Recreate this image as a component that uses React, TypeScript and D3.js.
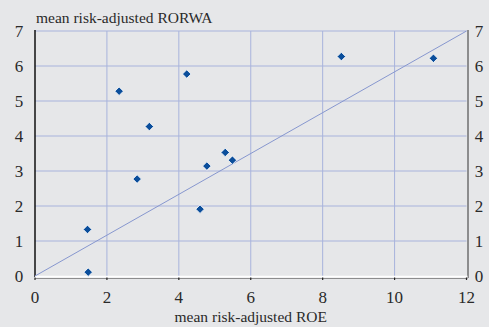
import * as d3 from 'd3';

// mean risk-adjusted ROE (x) vs mean risk-adjusted RORWA (y)
const roe = [1.46, 1.48, 2.34, 2.84, 3.18, 4.22, 4.59, 4.78, 5.29, 5.49, 8.52, 11.08];
const rorwa = [1.33, 0.11, 5.28, 2.77, 4.27, 5.77, 1.91, 3.14, 3.53, 3.31, 6.27, 6.22];
const xTicks = [0, 2, 4, 6, 8, 10, 12];
const yTicks = [0, 1, 2, 3, 4, 5, 6, 7];
const diagonal = [[0, 0], [12, 7]];

const W = 489, H = 327;
const left = 35, right = 466.5, top = 31, bottom = 276;

const App = () => {
    const x = d3.scaleLinear().domain([0, 12]).range([left, right]);
    const y = d3.scaleLinear().domain([0, 7]).range([bottom, top]);
    const line = d3.line<number[]>().x(d => x(d[0])).y(d => y(d[1]));
    const diamond = d3.symbol().type(d3.symbolDiamond2).size(46)();
    const font = "'Liberation Serif', 'DejaVu Serif', serif";

    return (
        <svg width={W} height={H} style={{ position: 'absolute', left: 0, top: 0, display: 'block' }}>
            <rect width={W} height={H} fill="#e6e7e9" />
            {/* grid */}
            {xTicks.slice(1, -1).map(t =>
                <line key={'gx' + t} x1={x(t)} x2={x(t)} y1={top} y2={bottom} stroke="#a8b3dc" strokeWidth={1} />
            )}
            {yTicks.slice(1).map(t =>
                <line key={'gy' + t} x1={left} x2={right} y1={y(t)} y2={y(t)} stroke="#a8b3dc" strokeWidth={1} />
            )}
            {/* axes */}
            <line x1={left} x2={left} y1={top - 1} y2={bottom + 1} stroke="#111" strokeWidth={1.5} />
            <line x1={right + 1.5} x2={right + 1.5} y1={top - 1} y2={bottom + 2} stroke="#333" strokeWidth={1} />
            <line x1={left} x2={right + 1} y1={bottom + 2.3} y2={bottom + 2.3} stroke="#777" strokeWidth={1} />
            <line x1={left} x2={right + 1} y1={bottom + 0.8} y2={bottom + 0.8} stroke="#fff" strokeWidth={2} />
            {xTicks.map(t =>
                <line key={'tx' + t} x1={x(t)} x2={x(t)} y1={bottom + 1.5} y2={bottom + 4} stroke="#222" strokeWidth={1.2} />
            )}
            {/* diagonal */}
            <path d={line(diagonal) || ''} fill="none" stroke="#8797cf" strokeWidth={1} />
            {/* points */}
            {roe.map((v, i) =>
                <path key={'p' + i} d={diamond || ''} transform={`translate(${x(v)},${y(rorwa[i])})`}
                    fill="#0b4e9b" stroke="#ffffff" strokeWidth={0.8} />
            )}
            {/* labels */}
            <g fontFamily={font} fontSize={17} fill="#2a2a2a">
                {yTicks.map(t =>
                    <text key={'ly' + t} x={19} y={y(t) + 6} textAnchor="middle">{t}</text>
                )}
                {yTicks.map(t =>
                    <text key={'ry' + t} x={479} y={y(t) + 6} textAnchor="middle">{t}</text>
                )}
                {xTicks.map(t =>
                    <text key={'lx' + t} x={x(t)} y={bottom + 27} textAnchor="middle">{t}</text>
                )}
                <text x={36} y={23} fontSize={15.5}>mean risk-adjusted RORWA</text>
                <text x={x(6)} y={322} fontSize={15.5} textAnchor="middle">mean risk-adjusted ROE</text>
            </g>
        </svg>
    );
};

export default App;
